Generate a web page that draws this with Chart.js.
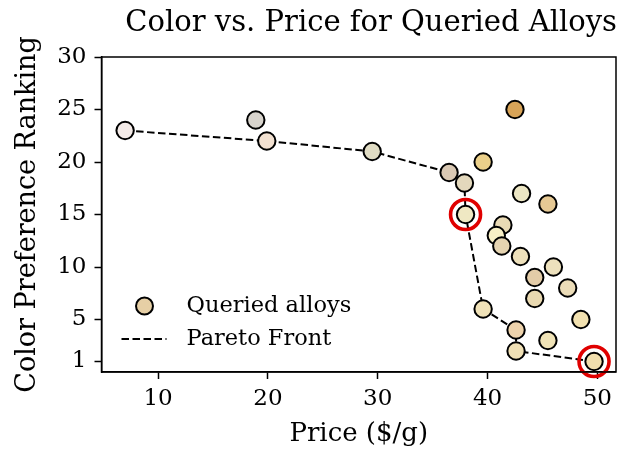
<!DOCTYPE html>
<html>
<head>
<meta charset="utf-8">
<script src="https://cdn.jsdelivr.net/npm/chart.js@4.4.1/dist/chart.umd.min.js"></script>
<style>
  body { margin: 0; background: #fff; }
  #wrap { width: 618px; height: 449px; }
</style>
</head>
<body>
<div id="wrap"><canvas id="alloyChart" width="618" height="449"></canvas></div>
<script>
// queried alloys (price in $/g, color preference ranking)
const priceValues = [7.0, 18.9, 19.9, 29.5, 42.5, 36.5, 37.9, 39.6, 43.1, 45.5, 38.0, 41.4, 40.8,
  41.3, 43.0, 46.0, 44.3, 47.3, 44.3, 39.6, 42.6, 42.6, 45.5, 48.5, 49.7];
const rankValues = [23, 24, 22, 21, 25, 19, 18, 20, 17, 16, 15, 14, 13,
  12, 11, 10, 9, 8, 7, 6, 4, 2, 3, 5, 1];
const alloyColors = ['#f4ebe8', '#d8d4cd', '#f2e1d1', '#e0dcc4', '#d8a458', '#d9c8b3', '#e3d8bc',
  '#ebd08a', '#ece6c4', '#e6c994', '#efe8c3', '#e9dab5', '#f8f0c6', '#e5d4b1', '#ede0bb',
  '#ede1bd', '#e3cca8', '#ebdcb8', '#e9d9b1', '#f0e2b8', '#eed3ac', '#f0e0b5', '#f0e3b7',
  '#f2e1b0', '#f1dfae'];

// pareto front
const paretoPrice = [7.0, 19.9, 29.5, 36.5, 37.9, 38.0, 39.6, 42.6, 42.6, 49.7];
const paretoRank = [23, 22, 21, 19, 18, 15, 6, 4, 2, 1];

// highlighted alloys
const highlightPrice = [38.0, 49.7];
const highlightRank = [15, 1];

const xTicks = [10, 20, 30, 40, 50];
const yTicks = [1, 5, 10, 15, 20, 25, 30];

const FONT = "'DejaVu Serif', 'Liberation Serif', serif";

const toPoints = (xs, ys) => xs.map((x, i) => ({ x: x, y: ys[i] }));

// box around the plot + legend inside the axes
const framePlugin = {
  id: 'frame',
  afterDatasetsDraw(chart) {
    const { ctx, chartArea } = chart;
    ctx.save();
    ctx.strokeStyle = '#000';
    ctx.lineWidth = 1.5;
    ctx.strokeRect(chartArea.left, chartArea.top, chartArea.right - chartArea.left, chartArea.bottom - chartArea.top);

    // legend
    const lx = chartArea.left + 43;
    const ly = chartArea.bottom - 66;
    ctx.beginPath();
    ctx.arc(lx, ly, 8.5, 0, Math.PI * 2);
    ctx.fillStyle = '#e6cfa5';
    ctx.fill();
    ctx.lineWidth = 2;
    ctx.stroke();

    ctx.beginPath();
    ctx.setLineDash([7.5, 3.5]);
    ctx.moveTo(lx - 23, ly + 33);
    ctx.lineTo(lx + 22, ly + 33);
    ctx.stroke();
    ctx.setLineDash([]);

    ctx.fillStyle = '#000';
    ctx.font = '22.5px ' + FONT;
    ctx.textBaseline = 'middle';
    ctx.fillText('Queried alloys', lx + 42, ly);
    ctx.fillText('Pareto Front', lx + 42, ly + 33);
    ctx.restore();
  }
};

const ctx = document.getElementById('alloyChart').getContext('2d');
new Chart(ctx, {
  type: 'scatter',
  data: {
    datasets: [
      {
        type: 'line',
        label: 'Pareto Front',
        data: toPoints(paretoPrice, paretoRank),
        borderColor: '#000',
        borderWidth: 2,
        borderDash: [7.5, 3.5],
        pointRadius: 0,
        fill: false,
        tension: 0,
        clip: false,
        order: 3
      },
      {
        label: 'Queried alloys',
        data: toPoints(priceValues, rankValues),
        backgroundColor: alloyColors,
        borderColor: '#000',
        borderWidth: 2,
        pointRadius: 8.7,
        clip: false,
        order: 2
      },
      {
        label: 'Selected',
        data: toPoints(highlightPrice, highlightRank),
        backgroundColor: 'rgba(0,0,0,0)',
        borderColor: '#e00000',
        borderWidth: 3.6,
        pointRadius: 15,
        clip: false,
        order: 1
      }
    ]
  },
  options: {
    responsive: false,
    animation: false,
    layout: { autoPadding: false, padding: { left: 0, right: 1, top: 0, bottom: 0 } },
    plugins: {
      legend: { display: false },
      tooltip: { enabled: false },
      title: {
        display: true,
        text: 'Color vs. Price for Queried Alloys',
        align: 'end',
        color: '#000',
        font: { family: FONT, size: 29, weight: 'normal', lineHeight: 1.2 },
        padding: { top: 5.6, bottom: 16.6 }
      }
    },
    scales: {
      x: {
        type: 'linear',
        min: 4.85,
        max: 51.7,
        afterBuildTicks: s => { s.ticks = xTicks.map(v => ({ value: v })); },
        afterFit: s => { s.height = 77; },
        grid: { display: true, drawOnChartArea: false, drawTicks: true, tickLength: 7, tickColor: '#000', tickWidth: 1.5 },
        border: { display: true, color: '#000', width: 1.5 },
        ticks: { color: '#000', padding: 6, maxRotation: 0, font: { family: FONT, size: 23 } },
        title: {
          display: true,
          text: 'Price ($/g)',
          color: '#000',
          font: { family: FONT, size: 26, lineHeight: 1.1 },
          padding: { top: 0, bottom: 0 }
        }
      },
      y: {
        type: 'linear',
        min: 0,
        max: 30,
        afterBuildTicks: s => { s.ticks = yTicks.map(v => ({ value: v })); },
        afterFit: s => { s.width = 101.5; },
        grid: { display: true, drawOnChartArea: false, drawTicks: true, tickLength: 7, tickColor: '#000', tickWidth: 1.5 },
        border: { display: true, color: '#000', width: 1.5 },
        ticks: { color: '#000', padding: 8, font: { family: FONT, size: 23 } },
        title: {
          display: true,
          text: 'Color Preference Ranking',
          color: '#000',
          font: { family: FONT, size: 27, lineHeight: 1.2 },
          padding: { top: 12, bottom: 0 }
        }
      }
    }
  },
  plugins: [framePlugin]
});
</script>
</body>
</html>
